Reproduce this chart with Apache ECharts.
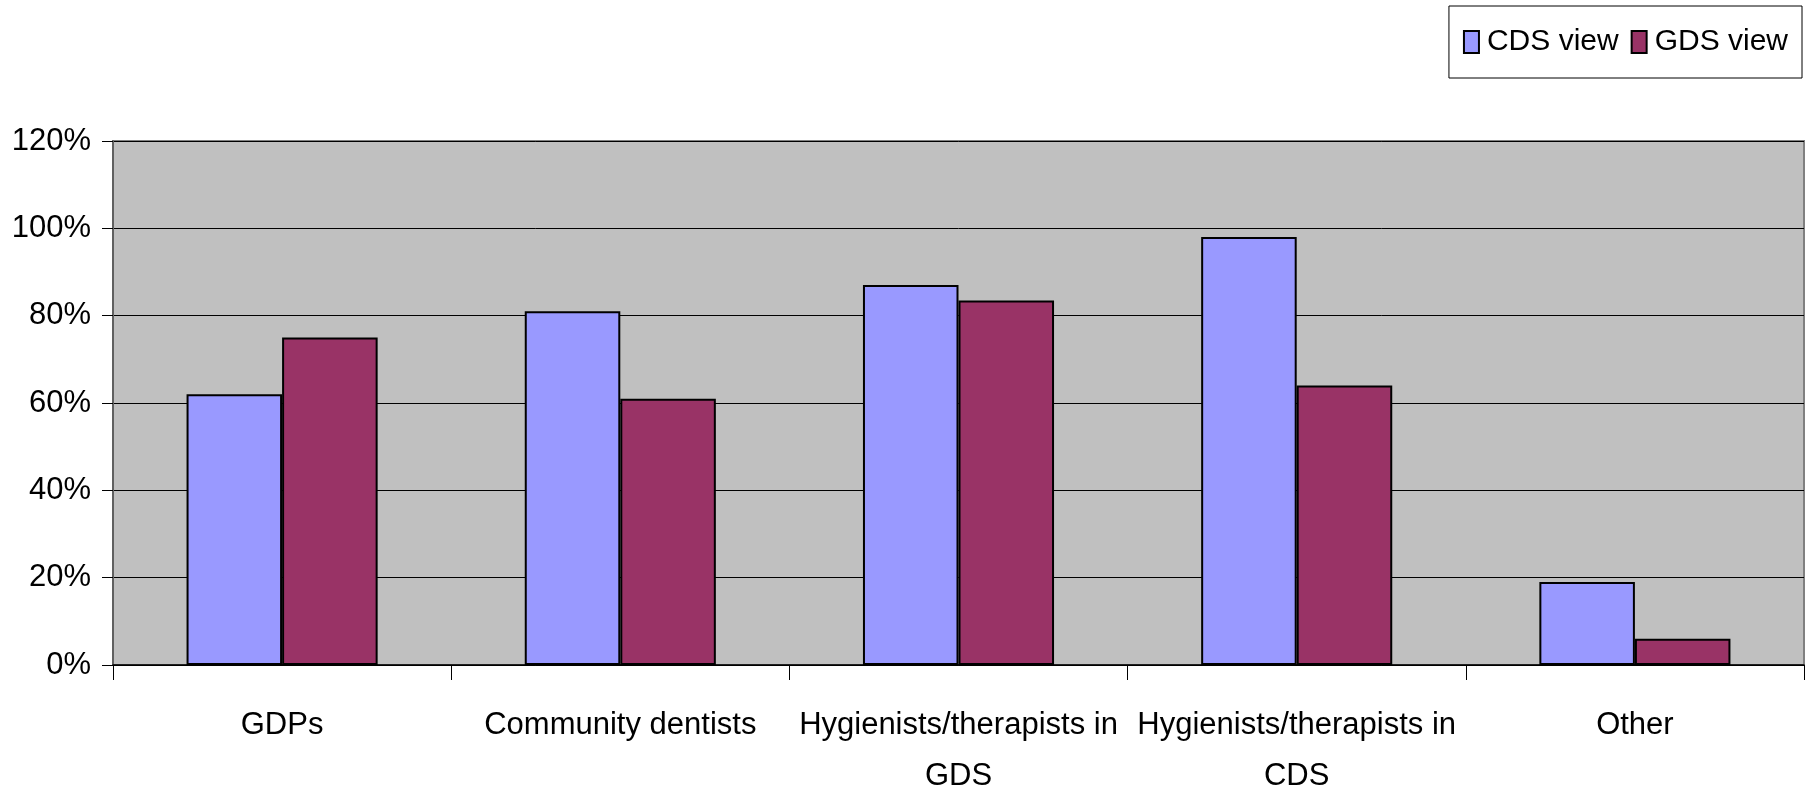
<!DOCTYPE html>
<html>
<head>
<meta charset="utf-8">
<script src="https://cdn.jsdelivr.net/npm/echarts@6/dist/echarts.min.js"></script>
<style>
  html, body { margin: 0; padding: 0; background: #fff; }
  #chart { width: 1808px; height: 796px; }
</style>
</head>
<body>
<div id="chart"></div>
<script>
// categories along the x axis
const categories = [
  'GDPs',
  'Community dentists',
  'Hygienists/therapists in\nGDS',
  'Hygienists/therapists in\nCDS',
  'Other'
];
// percentages
const cdsView = [62, 81, 87, 98, 19];
const gdsView = [75, 61, 83.5, 64, 6];
const seriesNames = ['CDS view', 'GDS view'];
const yTicks = { min: 0, max: 120, step: 20 };

const font = 'Liberation Sans, Arial, sans-serif';

const chart = echarts.init(document.getElementById('chart'));
chart.setOption({
  animation: false,
  textStyle: { fontFamily: font },
  legend: {
    data: seriesNames,
    icon: 'rect',
    right: 6,
    top: 6,
    orient: 'horizontal',
    itemWidth: 15,
    itemHeight: 22,
    itemGap: 12,
    padding: [21, 14, 21, 14],
    borderColor: '#000',
    borderWidth: 1,
    backgroundColor: '#fff',
    itemStyle: { borderColor: '#000', borderWidth: 2 },
    textStyle: { fontSize: 30, color: '#000', fontFamily: font, padding: [0, 0, 0, 3] }
  },
  grid: {
    left: 113,
    right: 4,
    top: 141,
    bottom: 131,
    outerBoundsMode: 'none',
    show: true,
    backgroundColor: '#C0C0C0',
    borderColor: '#808080',
    borderWidth: 2
  },
  xAxis: {
    type: 'category',
    data: categories,
    axisLine: { lineStyle: { color: '#000', width: 1.5 } },
    axisTick: { show: true, length: 15, lineStyle: { color: '#000' } },
    axisLabel: {
      fontSize: 31,
      color: '#000',
      margin: 35,
      lineHeight: 51,
      interval: 0
    }
  },
  yAxis: {
    type: 'value',
    min: yTicks.min,
    max: yTicks.max,
    interval: yTicks.step,
    axisLine: { show: true, lineStyle: { color: '#606060', width: 2 } },
    axisTick: { show: true, length: 11, lineStyle: { color: '#000' } },
    axisLabel: {
      formatter: '{value}%',
      fontSize: 31,
      color: '#000',
      margin: 22
    },
    splitLine: { lineStyle: { color: '#000', width: 1 } }
  },
  series: [
    {
      name: seriesNames[0],
      type: 'bar',
      data: cdsView,
      barGap: '0%',
      barCategoryGap: '43.5%',
      itemStyle: { color: '#9999FF', borderColor: '#000', borderWidth: 2 }
    },
    {
      name: seriesNames[1],
      type: 'bar',
      data: gdsView,
      barGap: '0%',
      barCategoryGap: '43.5%',
      itemStyle: { color: '#993366', borderColor: '#000', borderWidth: 2 }
    }
  ]
});
</script>
</body>
</html>
